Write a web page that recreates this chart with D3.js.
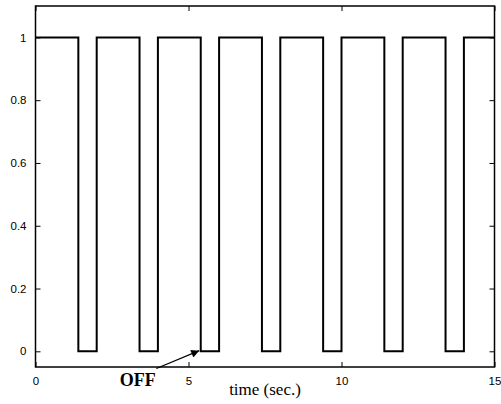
<!DOCTYPE html>
<html>
<head>
<meta charset="utf-8">
<script src="https://cdn.jsdelivr.net/npm/d3@7"></script>
<style>
  body { margin: 0; background: #fff; }
  svg { display: block; }
</style>
</head>
<body>
<div id="chart"></div>
<script>
// switching instants (sec.) and the level held from each one onwards
var switchTimes = [0, 1.4, 2, 3.4, 4, 5.4, 6, 7.4, 8, 9.4, 10, 11.4, 12, 13.4, 14, 15];
var levels      = [1, 0,   1, 0,   1, 0,   1, 0,   1, 0,   1,  0,    1,  0,    1,  1];
var xTicks = [0, 5, 10, 15];
var yTicks = [0, 0.2, 0.4, 0.6, 0.8, 1];

var margin = {top: 6, right: 6.5, bottom: 37, left: 35.5},
    width = 501 - margin.left - margin.right,
    height = 404 - margin.top - margin.bottom;

var svg = d3.select("#chart")
  .append("svg")
    .attr("width", 501)
    .attr("height", 404)
  .append("g")
    .attr("transform", "translate(" + margin.left + "," + margin.top + ")");

var x = d3.scaleLinear().domain([0, 15]).range([0, width]);
var y = d3.scaleLinear().domain([-0.05, 1.1]).range([height, 0]);

var data = switchTimes.map(function(t, i) { return {t: t, v: levels[i]}; });

// signal
svg.append("path")
  .datum(data)
  .attr("fill", "none")
  .attr("stroke", "#000")
  .attr("stroke-width", 2)
  .attr("d", d3.line()
    .x(function(d) { return x(d.t); })
    .y(function(d) { return y(d.v); })
    .curve(d3.curveStepAfter));

// axes, matlab style: ticks inward on all four sides
function styleAxis(g, labels) {
  g.select(".domain").remove();
  g.selectAll("line").attr("stroke", "#000").attr("stroke-width", 1);
  g.selectAll("text")
    .style("font-family", "'Liberation Sans', Arial, sans-serif")
    .style("font-size", "11.5px")
    .attr("fill", "#000");
  if (!labels) g.selectAll("text").remove();
}

svg.append("g")
  .attr("transform", "translate(0," + height + ")")
  .call(d3.axisBottom(x).tickValues(xTicks).tickFormat(d3.format("d")).tickSizeInner(-5).tickPadding(10))
  .call(styleAxis, true);
svg.append("g")
  .call(d3.axisTop(x).tickValues(xTicks).tickSizeInner(-5))
  .call(styleAxis, false);
svg.append("g")
  .call(d3.axisLeft(y).tickValues(yTicks).tickFormat(function(d) { return d3.format("")(d); }).tickSizeInner(-5).tickPadding(9))
  .call(styleAxis, true);
svg.append("g")
  .attr("transform", "translate(" + width + ",0)")
  .call(d3.axisRight(y).tickValues(yTicks).tickSizeInner(-5))
  .call(styleAxis, false);

// frame
svg.append("rect")
  .attr("width", width)
  .attr("height", height)
  .attr("fill", "none")
  .attr("stroke", "#000")
  .attr("stroke-width", 1.5);

// x label
svg.append("text")
  .attr("x", x(7.5))
  .attr("y", height + 28)
  .attr("text-anchor", "middle")
  .style("font-family", "'Liberation Serif', 'Times New Roman', serif")
  .style("font-size", "17px")
  .text("time (sec.)");

// OFF annotation with arrow
var defs = svg.append("defs");
defs.append("marker")
  .attr("id", "arrow")
  .attr("viewBox", "0 0 10 10")
  .attr("refX", 10).attr("refY", 5)
  .attr("markerWidth", 10).attr("markerHeight", 8)
  .attr("markerUnits", "userSpaceOnUse")
  .attr("orient", "auto")
  .append("path")
    .attr("d", "M0,0L10,5L0,10Z")
    .attr("fill", "#000");

svg.append("line")
  .attr("x1", x(3.95)).attr("y1", y(-0.055))
  .attr("x2", x(5.35)).attr("y2", y(0.002))
  .attr("stroke", "#000")
  .attr("stroke-width", 1.2)
  .attr("marker-end", "url(#arrow)");

svg.append("text")
  .attr("x", x(2.75))
  .attr("y", height + 19)
  .style("font-family", "'Liberation Serif', 'Times New Roman', serif")
  .style("font-size", "18px")
  .style("font-weight", "bold")
  .text("OFF");
</script>
</body>
</html>
